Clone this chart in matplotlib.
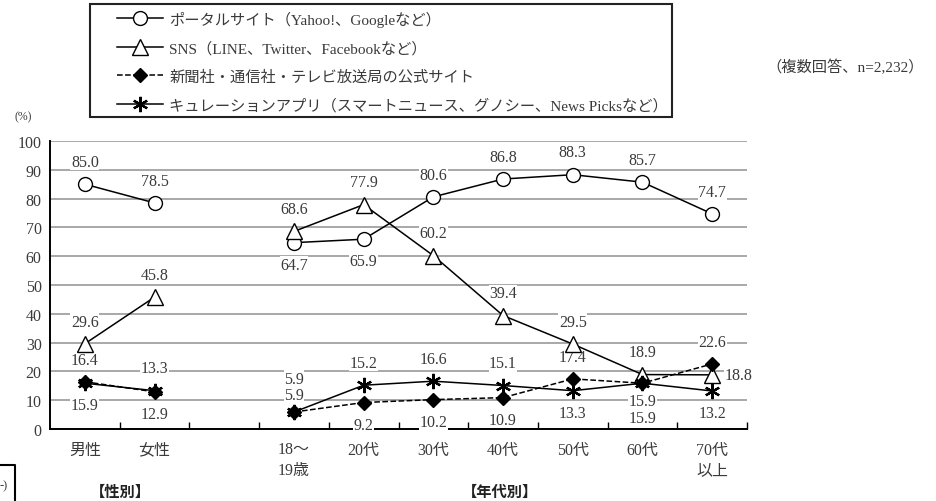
import matplotlib.pyplot as plt
from matplotlib.lines import Line2D
from matplotlib.patches import Rectangle

plt.rcParams['font.family'] = ['Liberation Serif', 'Noto Sans CJK JP']

# categories: 性別 (2) + gap + 年代別 (7)
categories = ['男性', '女性', '', '18～\n19歳', '20代', '30代', '40代', '50代', '60代', '70代\n以上']
gender_idx = [0, 1]
age_idx = [3, 4, 5, 6, 7, 8, 9]

portal_gender = [85.0, 78.5]
portal_age = [64.7, 65.9, 80.6, 86.8, 88.3, 85.7, 74.7]
sns_gender = [29.6, 45.8]
sns_age = [68.6, 77.9, 60.2, 39.4, 29.5, 18.9, 18.8]
news_gender = [16.4, 12.9]
news_age = [5.9, 9.2, 10.2, 10.9, 17.4, 15.9, 22.6]
curation_gender = [15.9, 13.3]
curation_age = [5.9, 15.2, 16.6, 15.1, 13.3, 15.9, 13.2]

labels = ['ポータルサイト（Yahoo!、Googleなど）',
          'SNS（LINE、Twitter、Facebookなど）',
          '新聞社・通信社・テレビ放送局の公式サイト',
          'キュレーションアプリ（スマートニュース、グノシー、News Picksなど）']

TXT = '#3a3a3a'
fig = plt.figure(figsize=(9.37, 5.02), dpi=100)
ax = fig.add_axes([50 / 937, 72 / 502, 697 / 937, 288 / 502])

styles = [
    dict(marker='o', ms=10, mfc='white', mec='black', color='black', ls='-'),
    dict(marker='^', ms=11, mfc='white', mec='black', color='black', ls='-'),
    dict(marker='D', ms=7.5, mfc='black', mec='black', color='black', ls='--'),
    dict(marker=(6, 2, 0), ms=11, mfc='black', mec='black', mew=1.6, color='black', ls='-'),
]
series = [(portal_gender, portal_age), (sns_gender, sns_age),
          (news_gender, news_age), (curation_gender, curation_age)]

for (g, a), st in zip(series, styles):
    ax.plot(gender_idx, g, lw=1.1, zorder=5, **st)
    ax.plot(age_idx, a, lw=1.1, zorder=5, **st)

# label offsets in points (dx, dy) for each point, gender then ages
U, D = (0, 16), (0, -16)
offsets = [
    [U, U, D, D, U, U, U, U, U],
    [U, U, U, U, U, U, U, U, (19, 0)],
    [U, D, (0, 24), D, D, D, U, (0, -25), U],
    [D, U, (0, 12), U, U, U, D, (0, -13), D],
]

for (g, a), offs in zip(series, offsets):
    xs = gender_idx + age_idx
    ys = list(g) + list(a)
    for x, y, (dx, dy) in zip(xs, ys, offs):
        ax.annotate(f'{y:.1f}', (x, y), xytext=(dx, dy), textcoords='offset points',
                    ha='center', va='center', fontsize=11.5, color=TXT, zorder=3,
                    bbox=dict(facecolor='white', edgecolor='none', pad=0.3))

ax.set_xlim(-0.5, 9.5)
ax.set_ylim(0, 100)
ax.set_yticks(range(0, 101, 10))
ax.yaxis.grid(True, color='#a8a8a8', lw=1.4, zorder=0)
ax.set_axisbelow(True)
ax.set_xticks(range(10))
ax.set_xticklabels(categories, fontsize=11.5, color=TXT, linespacing=1.35, va='top')
ax.set_xticks([i + 0.5 for i in range(10)], minor=True)
ax.tick_params(axis='x', which='major', length=0, pad=9)
ax.tick_params(axis='x', which='minor', direction='in', length=5, width=1)
ax.tick_params(axis='y', length=0, labelsize=11.5, labelcolor=TXT, pad=6)
for s in ['top', 'right']:
    ax.spines[s].set_visible(False)
ax.spines['left'].set_linewidth(1.4)
ax.spines['bottom'].set_linewidth(1.4)

# legend in a drawn frame
fig.patches.append(Rectangle((90 / 937, 1 - 118 / 502), 582 / 937, 113 / 502,
                             transform=fig.transFigure, fill=False, ec='#222222', lw=1.5))
handles = [Line2D([], [], lw=1.1, **st) for st in styles]
fig.legend(handles, labels, loc='upper left', bbox_to_anchor=(106 / 937, 1 - 1 / 502),
           frameon=False, fontsize=11, handlelength=3.0, labelspacing=0.92,
           handletextpad=0.45, labelcolor=TXT, borderpad=0.2)

fig.text(23 / 937, 1 - 117 / 502, '(%)', fontsize=8.5, color=TXT, ha='center', va='center')
fig.text(845 / 937, 1 - 68 / 502, '（複数回答、n=2,232）', fontsize=11, color=TXT,
         ha='center', va='center')
fig.text(120 / 937, 1 - 492 / 502, '【性別】', fontsize=11, fontweight='bold',
         family='Noto Sans CJK JP', color='#222222', ha='center', va='center')
fig.text(500 / 937, 1 - 492 / 502, '【年代別】', fontsize=11, fontweight='bold',
         family='Noto Sans CJK JP', color='#222222', ha='center', va='center')

# edge of a neighbouring box
fig.add_artist(Line2D([0, 15 / 937, 15 / 937], [1 - 466 / 502, 1 - 466 / 502, 0],
                      transform=fig.transFigure, color='black', lw=1.5))
fig.text(4 / 937, 1 - 486 / 502, '-)', fontsize=9, color=TXT, ha='center', va='center')

fig.savefig('out.png', dpi=100)
